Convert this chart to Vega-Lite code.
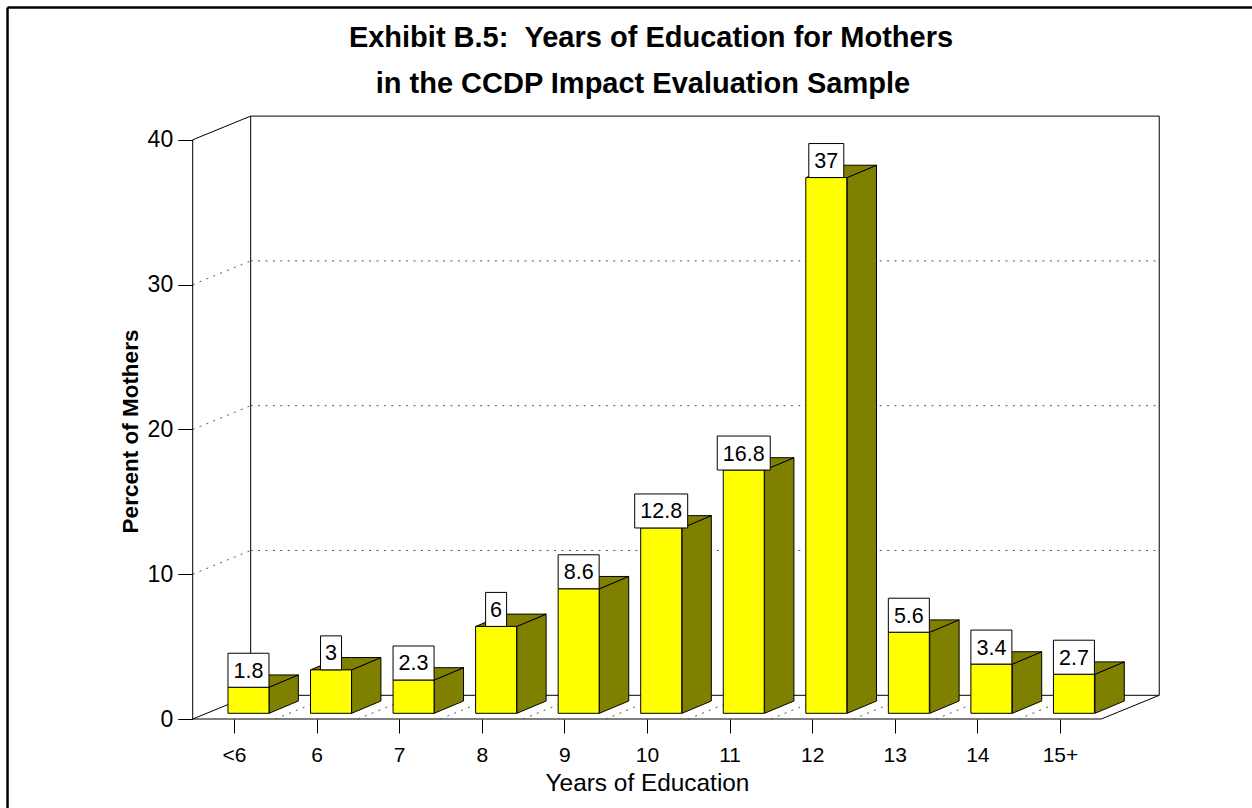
{"$schema":"https://vega.github.io/schema/vega-lite/v6.json","width":1252,"height":808,"padding":0,"autosize":{"type":"none"},"background":"white","view":{"stroke":null},"config":{"font":"Liberation Sans","style":{"cell":{"stroke":null}}},
"title":{"text":["Exhibit B.5:\u00a0\u00a0Years of Education for Mothers","in the CCDP Impact Evaluation Sample\u00a0\u00a0\u200b"],"font":"Liberation Sans","fontSize":29,"fontWeight":"bold","color":"#000000","anchor":"middle","frame":"group","dx":25,"offset":-99,"baseline":"top","lineHeight":46},
"datasets":{
"bars":[{"years":"<6","percent":1.8},{"years":"6","percent":3},{"years":"7","percent":2.3},{"years":"8","percent":6},{"years":"9","percent":8.6},{"years":"10","percent":12.8},{"years":"11","percent":16.8},{"years":"12","percent":37},{"years":"13","percent":5.6},{"years":"14","percent":3.4},{"years":"15+","percent":2.7}],
"frameLines":[{"along":-2.242,"level":49.137,"along2":12.825,"level2":49.137},{"along":-2.242,"level":-6.146,"along2":-2.242,"level2":49.137}],
"solidLines":[{"along":0,"level":0,"along2":11,"level2":0},{"along":0,"level":0,"along2":0,"level2":40},{"along":0,"level":0,"along2":0.702,"level2":1.637},{"along":0,"level":40,"along2":0.702,"level2":41.637},{"along":11,"level":0,"along2":11.702,"level2":1.637},{"along":0.702,"level":1.637,"along2":11.702,"level2":1.637},{"along":0.702,"level":41.637,"along2":11.702,"level2":41.637},{"along":0.702,"level":1.637,"along2":0.702,"level2":41.637},{"along":11.702,"level":1.637,"along2":11.702,"level2":41.637}],
"gridLines":[{"along":0,"level":10,"along2":0.702,"level2":11.637},{"along":0,"level":20,"along2":0.702,"level2":21.637},{"along":0,"level":30,"along2":0.702,"level2":31.637},{"along":0.702,"level":11.637,"along2":11.702,"level2":11.637},{"along":0.702,"level":21.637,"along2":11.702,"level2":21.637},{"along":0.702,"level":31.637,"along2":11.702,"level2":31.637},{"along":1,"level":0,"along2":1.702,"level2":1.637},{"along":2,"level":0,"along2":2.702,"level2":1.637},{"along":3,"level":0,"along2":3.702,"level2":1.637},{"along":4,"level":0,"along2":4.702,"level2":1.637},{"along":5,"level":0,"along2":5.702,"level2":1.637},{"along":6,"level":0,"along2":6.702,"level2":1.637},{"along":7,"level":0,"along2":7.702,"level2":1.637},{"along":8,"level":0,"along2":8.702,"level2":1.637},{"along":9,"level":0,"along2":9.702,"level2":1.637},{"along":10,"level":0,"along2":10.702,"level2":1.637}],
"faces":[
{"years":"<6","face":"side","along":0.924,"low":0.394,"high":2.194},{"years":"<6","face":"side","along":1.279,"low":1.244,"high":3.044},
{"years":"<6","face":"top","along":0.427,"low":2.194,"high":2.194},{"years":"<6","face":"top","along":0.782,"low":2.194,"high":3.044},{"years":"<6","face":"top","along":0.924,"low":2.194,"high":3.044},{"years":"<6","face":"top","along":1.279,"low":3.044,"high":3.044},
{"years":"6","face":"side","along":1.924,"low":0.394,"high":3.394},{"years":"6","face":"side","along":2.279,"low":1.244,"high":4.244},
{"years":"6","face":"top","along":1.427,"low":3.394,"high":3.394},{"years":"6","face":"top","along":1.782,"low":3.394,"high":4.244},{"years":"6","face":"top","along":1.924,"low":3.394,"high":4.244},{"years":"6","face":"top","along":2.279,"low":4.244,"high":4.244},
{"years":"7","face":"side","along":2.924,"low":0.394,"high":2.694},{"years":"7","face":"side","along":3.279,"low":1.244,"high":3.544},
{"years":"7","face":"top","along":2.427,"low":2.694,"high":2.694},{"years":"7","face":"top","along":2.782,"low":2.694,"high":3.544},{"years":"7","face":"top","along":2.924,"low":2.694,"high":3.544},{"years":"7","face":"top","along":3.279,"low":3.544,"high":3.544},
{"years":"8","face":"side","along":3.924,"low":0.394,"high":6.394},{"years":"8","face":"side","along":4.279,"low":1.244,"high":7.244},
{"years":"8","face":"top","along":3.427,"low":6.394,"high":6.394},{"years":"8","face":"top","along":3.782,"low":6.394,"high":7.244},{"years":"8","face":"top","along":3.924,"low":6.394,"high":7.244},{"years":"8","face":"top","along":4.279,"low":7.244,"high":7.244},
{"years":"9","face":"side","along":4.924,"low":0.394,"high":8.994},{"years":"9","face":"side","along":5.279,"low":1.244,"high":9.844},
{"years":"9","face":"top","along":4.427,"low":8.994,"high":8.994},{"years":"9","face":"top","along":4.782,"low":8.994,"high":9.844},{"years":"9","face":"top","along":4.924,"low":8.994,"high":9.844},{"years":"9","face":"top","along":5.279,"low":9.844,"high":9.844},
{"years":"10","face":"side","along":5.924,"low":0.394,"high":13.194},{"years":"10","face":"side","along":6.279,"low":1.244,"high":14.044},
{"years":"10","face":"top","along":5.427,"low":13.194,"high":13.194},{"years":"10","face":"top","along":5.782,"low":13.194,"high":14.044},{"years":"10","face":"top","along":5.924,"low":13.194,"high":14.044},{"years":"10","face":"top","along":6.279,"low":14.044,"high":14.044},
{"years":"11","face":"side","along":6.924,"low":0.394,"high":17.194},{"years":"11","face":"side","along":7.279,"low":1.244,"high":18.044},
{"years":"11","face":"top","along":6.427,"low":17.194,"high":17.194},{"years":"11","face":"top","along":6.782,"low":17.194,"high":18.044},{"years":"11","face":"top","along":6.924,"low":17.194,"high":18.044},{"years":"11","face":"top","along":7.279,"low":18.044,"high":18.044},
{"years":"12","face":"side","along":7.924,"low":0.394,"high":37.394},{"years":"12","face":"side","along":8.279,"low":1.244,"high":38.244},
{"years":"12","face":"top","along":7.427,"low":37.394,"high":37.394},{"years":"12","face":"top","along":7.782,"low":37.394,"high":38.244},{"years":"12","face":"top","along":7.924,"low":37.394,"high":38.244},{"years":"12","face":"top","along":8.279,"low":38.244,"high":38.244},
{"years":"13","face":"side","along":8.924,"low":0.394,"high":5.994},{"years":"13","face":"side","along":9.279,"low":1.244,"high":6.844},
{"years":"13","face":"top","along":8.427,"low":5.994,"high":5.994},{"years":"13","face":"top","along":8.782,"low":5.994,"high":6.844},{"years":"13","face":"top","along":8.924,"low":5.994,"high":6.844},{"years":"13","face":"top","along":9.279,"low":6.844,"high":6.844},
{"years":"14","face":"side","along":9.924,"low":0.394,"high":3.794},{"years":"14","face":"side","along":10.279,"low":1.244,"high":4.644},
{"years":"14","face":"top","along":9.427,"low":3.794,"high":3.794},{"years":"14","face":"top","along":9.782,"low":3.794,"high":4.644},{"years":"14","face":"top","along":9.924,"low":3.794,"high":4.644},{"years":"14","face":"top","along":10.279,"low":4.644,"high":4.644},
{"years":"15+","face":"side","along":10.924,"low":0.394,"high":3.094},{"years":"15+","face":"side","along":11.279,"low":1.244,"high":3.944},
{"years":"15+","face":"top","along":10.427,"low":3.094,"high":3.094},{"years":"15+","face":"top","along":10.782,"low":3.094,"high":3.944},{"years":"15+","face":"top","along":10.924,"low":3.094,"high":3.944},{"years":"15+","face":"top","along":11.279,"low":3.944,"high":3.944}
]},
"resolve":{"scale":{"x":"independent","y":"independent"}},
"layer":[
{"layer":[
{"data":{"name":"solidLines"},"mark":{"type":"rule","color":"#000000","strokeWidth":1},"encoding":{
"x":{"field":"along","type":"quantitative","scale":{"domain":[-2.333,12.825],"nice":false,"zero":false},"axis":{"orient":"bottom","offset":-89,"values":[0.5,1.5,2.5,3.5,4.5,5.5,6.5,7.5,8.5,9.5,10.5],"labelExpr":"['<6','6','7','8','9','10','11','12','13','14','15+'][datum.value-0.5]","grid":false,"domain":false,"tickColor":"#000000","tickSize":14,"labelFont":"Liberation Sans","labelFontSize":21,"labelColor":"#000000","labelPadding":11,"labelAngle":0,"title":"Years of Education","titleFont":"Liberation Sans","titleFontSize":24.4,"titleFontWeight":"normal","titleColor":"#000000","titleX":647,"titleY":64,"titleBaseline":"middle","labelFlush":false,"labelOverlap":false}},
"y":{"field":"level","type":"quantitative","scale":{"domain":[-6.146,49.655],"nice":false,"zero":false},"axis":{"orient":"left","offset":-192.7,"values":[0,10,20,30,40],"grid":false,"domain":false,"tickColor":"#000000","tickSize":15,"labelFont":"Liberation Sans","labelFontSize":23,"labelColor":"#000000","labelPadding":5,"title":"Percent of Mothers","titleFont":"Liberation Sans","titleFontSize":22.5,"titleFontWeight":"bold","titleColor":"#000000","titleX":-62,"titleY":431,"titleBaseline":"middle","labelFlush":false}},
"x2":{"field":"along2"},"y2":{"field":"level2"}}},
{"data":{"name":"frameLines"},"mark":{"type":"rule","color":"#000000","strokeWidth":2.5},"encoding":{
"x":{"field":"along","type":"quantitative"},"y":{"field":"level","type":"quantitative"},"x2":{"field":"along2"},"y2":{"field":"level2"}}},
{"data":{"name":"gridLines"},"mark":{"type":"rule","color":"#555555","strokeWidth":1,"strokeDash":[2,5.4]},"encoding":{
"x":{"field":"along","type":"quantitative"},"y":{"field":"level","type":"quantitative"},"x2":{"field":"along2"},"y2":{"field":"level2"}}},
{"data":{"name":"faces"},"mark":{"type":"area","orient":"vertical","color":"#808000","stroke":"#000000","strokeWidth":1,"opacity":1,"interpolate":"linear"},"encoding":{
"x":{"field":"along","type":"quantitative"},"y":{"field":"low","type":"quantitative"},"y2":{"field":"high"},"detail":[{"field":"years"},{"field":"face"}]}}
]},
{"data":{"name":"bars"},"layer":[
{"mark":{"type":"bar","color":"#FFFF00","stroke":"#000000","strokeWidth":1},"encoding":{"x":{"field":"years","type":"nominal","sort":null,"axis":null,"scale":{"type":"band","domain":["<6","6","7","8","9","10","11","12","13","14","15+"],"range":[206.9,1115.5],"paddingInner":0.5036,"paddingOuter":0.2554}},"y":{"field":"percent","type":"quantitative","axis":null,"scale":{"domain":[-6.54,49.261],"nice":false,"zero":false}},"y2":{"datum":0}}},
{"transform":[{"filter":{"field":"percent","oneOf":[1.8,2.3,2.7,3.4,5.6,8.6]}}],"mark":{"type":"bar","width":41,"color":"#FFFFFF","stroke":"#000000","strokeWidth":1,"yOffset":-34,"y2Offset":0},"encoding":{"x":{"field":"years","type":"nominal","sort":null},"y":{"field":"percent","type":"quantitative"},"y2":{"field":"percent"}}},
{"transform":[{"filter":{"field":"percent","oneOf":[3,6]}}],"mark":{"type":"bar","width":21,"color":"#FFFFFF","stroke":"#000000","strokeWidth":1,"yOffset":-34,"y2Offset":0},"encoding":{"x":{"field":"years","type":"nominal","sort":null},"y":{"field":"percent","type":"quantitative"},"y2":{"field":"percent"}}},
{"transform":[{"filter":{"field":"percent","oneOf":[12.8,16.8]}}],"mark":{"type":"bar","width":53,"color":"#FFFFFF","stroke":"#000000","strokeWidth":1,"yOffset":-34,"y2Offset":0},"encoding":{"x":{"field":"years","type":"nominal","sort":null},"y":{"field":"percent","type":"quantitative"},"y2":{"field":"percent"}}},
{"transform":[{"filter":{"field":"percent","oneOf":[37]}}],"mark":{"type":"bar","width":35,"color":"#FFFFFF","stroke":"#000000","strokeWidth":1,"yOffset":-34,"y2Offset":0},"encoding":{"x":{"field":"years","type":"nominal","sort":null},"y":{"field":"percent","type":"quantitative"},"y2":{"field":"percent"}}},
{"mark":{"type":"text","font":"Liberation Sans","fontSize":21.5,"color":"#000000","baseline":"middle","dy":-15.5},"encoding":{"x":{"field":"years","type":"nominal","sort":null},"y":{"field":"percent","type":"quantitative"},"text":{"field":"percent","type":"nominal"}}}
]}
]}
